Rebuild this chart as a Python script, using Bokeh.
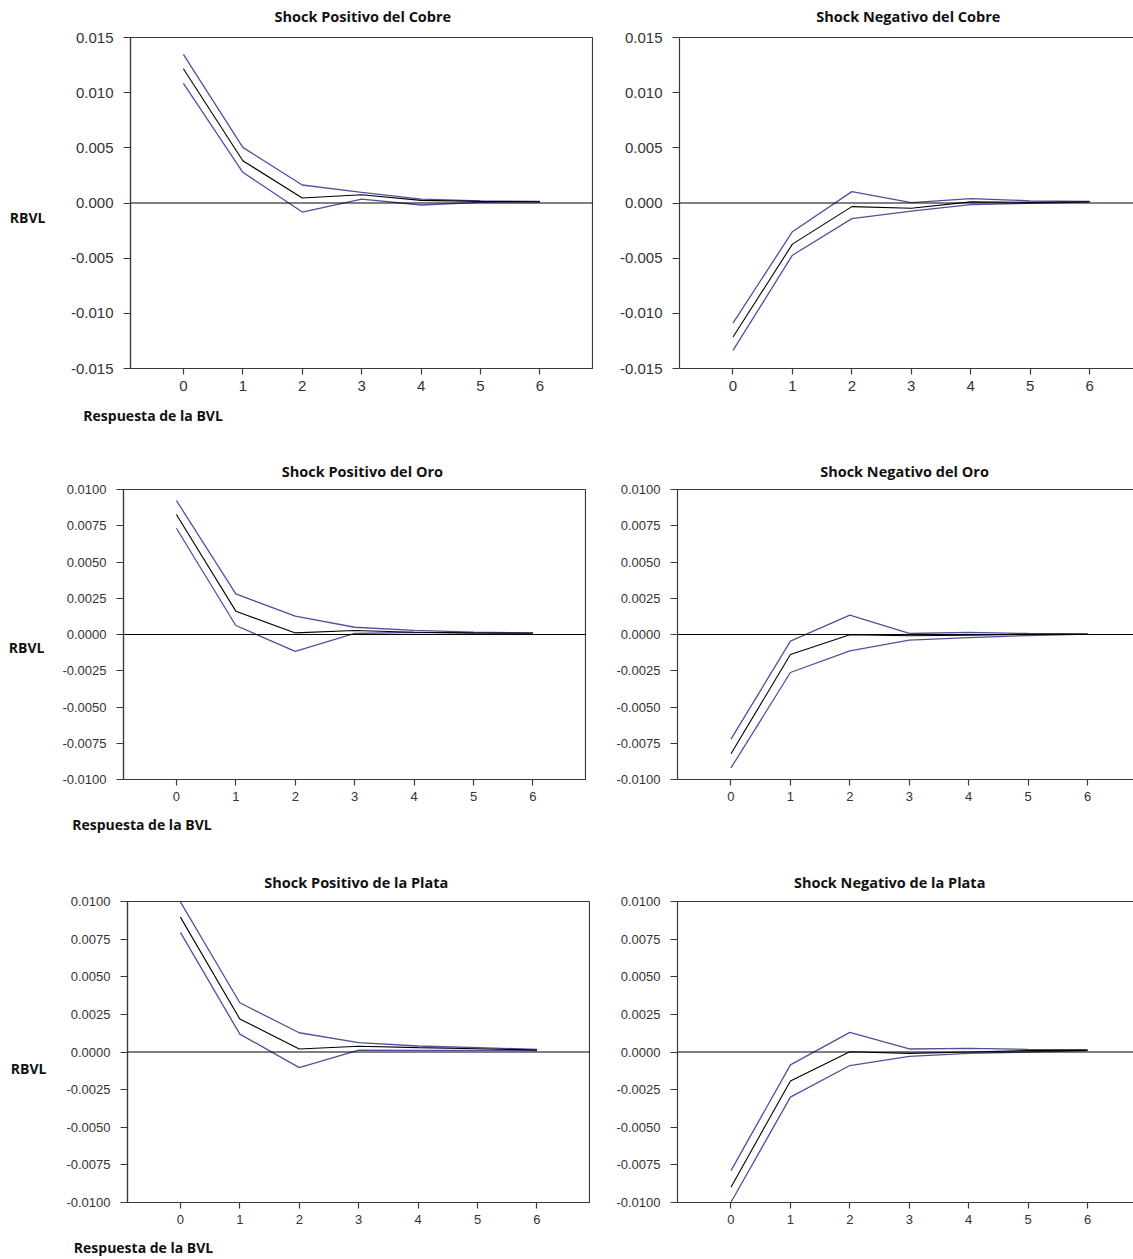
from bokeh.plotting import figure
from bokeh.models import (Range1d, FixedTicker, NumeralTickFormatter, Span, LinearAxis,
                          CustomJSTickFormatter)
from bokeh.layouts import column, row
from bokeh.embed import file_html
from bokeh.resources import INLINE

horizons = [0, 1, 2, 3, 4, 5, 6]

cobre_pos_mid = [0.01217, 0.00383, 0.00045, 0.00075, 0.00024, 0.00015, 0.00012]
cobre_pos_up = [0.01347, 0.00504, 0.00163, 0.00097, 0.00036, 0.00020, 0.00015]
cobre_pos_lo = [0.01084, 0.00278, -0.00082, 0.00036, -0.00018, 0.00006, 0.00010]

cobre_neg_mid = [-0.01215, -0.00373, -0.00033, -0.00048, 0.00010, 0.00006, 0.00012]
cobre_neg_up = [-0.01088, -0.00260, 0.00103, 0.00003, 0.00040, 0.00020, 0.00015]
cobre_neg_lo = [-0.01336, -0.00473, -0.00142, -0.00073, -0.00015, -0.00003, 0.00010]

oro_pos_mid = [0.00828, 0.00161, 0.00011, 0.00028, 0.00016, 0.00011, 0.00010]
oro_pos_up = [0.00924, 0.00280, 0.00126, 0.00050, 0.00028, 0.00016, 0.00010]
oro_pos_lo = [0.00733, 0.00062, -0.00117, 0.00007, 0.00014, 0.00010, 0.00007]

oro_neg_mid = [-0.00823, -0.00138, -0.00002, -0.00009, -0.00005, 0.00002, 0.00002]
oro_neg_up = [-0.00722, -0.00046, 0.00133, 0.00007, 0.00014, 0.00007, 0.00004]
oro_neg_lo = [-0.00920, -0.00262, -0.00113, -0.00039, -0.00021, -0.00007, 0.00002]

plata_pos_mid = [0.00896, 0.00219, 0.00020, 0.00038, 0.00029, 0.00022, 0.00013]
plata_pos_up = [0.00998, 0.00327, 0.00128, 0.00062, 0.00040, 0.00029, 0.00018]
plata_pos_lo = [0.00795, 0.00119, -0.00104, 0.00013, 0.00011, 0.00011, 0.00010]

plata_neg_mid = [-0.00898, -0.00192, 0.00002, -0.00009, 0.00000, 0.00009, 0.00011]
plata_neg_up = [-0.00788, -0.00086, 0.00130, 0.00020, 0.00024, 0.00018, 0.00015]
plata_neg_lo = [-0.00998, -0.00300, -0.00090, -0.00029, -0.00009, 0.00000, 0.00010]

titles = ["Shock Positivo del Cobre", "Shock Negativo del Cobre",
          "Shock Positivo del Oro", "Shock Negativo del Oro",
          "Shock Positivo de la Plata", "Shock Negativo de la Plata"]
y_label = "RBVL"
x_note = "Respuesta de la BVL"

row1_ticks = [-0.015, -0.010, -0.005, 0.0, 0.005, 0.010, 0.015]
row23_ticks = [-0.01, -0.0075, -0.005, -0.0025, 0.0, 0.0025, 0.005, 0.0075, 0.01]

BAND = "#50509e"
AXIS = "#3a3a3a"
TICK_FONT = "Liberation Sans"
BOLD_FONT = "Open Sans"
PX_PER_UNIT = 59.43


def text_axis(text, pos, standoff, size):
    """An axis without line or ticks that shows one bold text at a position."""
    return LinearAxis(ticker=FixedTicker(ticks=[pos]),
                      formatter=CustomJSTickFormatter(code="return %r;" % text),
                      axis_line_color=None, major_tick_line_color=None,
                      minor_tick_line_color=None, major_label_standoff=standoff,
                      major_label_text_font=BOLD_FONT, major_label_text_font_style="bold",
                      major_label_text_font_size=size, major_label_text_color="#111111")


def panel(title, mid, up, lo, ymax, ticks, fmt, left_side, bl, fw, bt, fh, bb,
          tick_fs, title_x, title_sd, rbvl=None, note=None):
    xstart = -0.89 if left_side else -0.9
    xend = xstart + fw / PX_PER_UNIT
    p = figure(width=bl + fw, height=bt + fh + bb,
               x_range=Range1d(xstart, xend), y_range=Range1d(-ymax, ymax),
               output_backend="svg", toolbar_location=None,
               x_axis_location=None, y_axis_location=None,
               min_border_left=bl, min_border_right=0,
               min_border_top=bt, min_border_bottom=bb,
               background_fill_color="white", border_fill_color="white")
    p.xgrid.visible = False
    p.ygrid.visible = False
    p.outline_line_color = AXIS if left_side else None
    p.outline_line_width = 1.2

    yax = LinearAxis(ticker=FixedTicker(ticks=ticks), formatter=NumeralTickFormatter(format=fmt))
    xax = LinearAxis(ticker=FixedTicker(ticks=horizons))
    for ax in (xax, yax):
        ax.axis_line_color = AXIS
        ax.axis_line_width = 1.2
        ax.major_tick_line_color = AXIS
        ax.major_tick_line_width = 1.2
        ax.major_tick_in = 0
        ax.minor_tick_line_color = None
        ax.major_label_text_font = TICK_FONT
        ax.major_label_text_font_size = tick_fs
        ax.major_label_text_color = "#333333"
    yax.major_tick_out = 7
    yax.major_label_standoff = 10
    xax.major_tick_out = 6
    xax.major_label_standoff = 6
    p.add_layout(yax, "left")
    p.add_layout(xax, "below")

    top = text_axis(title, title_x, title_sd, "14.5px")
    if not left_side:
        top.axis_line_color = AXIS
        top.axis_line_width = 1.2
    p.add_layout(top, "above")

    if rbvl is not None:
        p.add_layout(text_axis(y_label, rbvl[0], rbvl[1], "14px"), "left")
    if note is not None:
        p.add_layout(text_axis(x_note, note[0], note[1], "14px"), "below")

    p.add_layout(Span(location=0, dimension="width", line_color="black", line_width=1.2))
    p.line(horizons, up, line_color=BAND, line_width=1.3)
    p.line(horizons, lo, line_color=BAND, line_width=1.3)
    p.line(horizons, mid, line_color="black", line_width=1.1)
    return p


# Row 1
p1 = panel(titles[0], cobre_pos_mid, cobre_pos_up, cobre_pos_lo, 0.015, row1_ticks, "0.000",
           True, 130, 463, 37, 331, 84, "15px", 3.02, 6,
           rbvl=(-0.0013, 16), note=(-0.51, 6))
p2 = panel(titles[1], cobre_neg_mid, cobre_neg_up, cobre_neg_lo, 0.015, row1_ticks, "0.000",
           False, 86, 454, 37, 331, 84, "15px", 2.95, 6)
# Row 2
p3 = panel(titles[2], oro_pos_mid, oro_pos_up, oro_pos_lo, 0.01, row23_ticks, "0.0000",
           True, 123, 463, 37, 290, 85, "13px", 3.13, 3,
           rbvl=(-0.0009, 9), note=(-0.58, 5))
p4 = panel(titles[3], oro_neg_mid, oro_neg_up, oro_neg_lo, 0.01, row23_ticks, "0.0000",
           False, 91, 456, 37, 290, 85, "13px", 2.92, 3)
# Row 3
p5 = panel(titles[4], plata_pos_mid, plata_pos_up, plata_pos_lo, 0.01, row23_ticks, "0.0000",
           True, 127, 463, 37, 302, 56, "13px", 2.96, 4,
           rbvl=(-0.0011, 11), note=(-0.62, 5))
p6 = panel(titles[5], plata_neg_mid, plata_neg_up, plata_neg_lo, 0.01, row23_ticks, "0.0000",
           False, 87, 456, 37, 302, 56, "13px", 2.67, 4)

layout = column(row(p1, p2), row(p3, p4), row(p5, p6))

with open("out.html", "w") as f:
    f.write(file_html(layout, INLINE))
